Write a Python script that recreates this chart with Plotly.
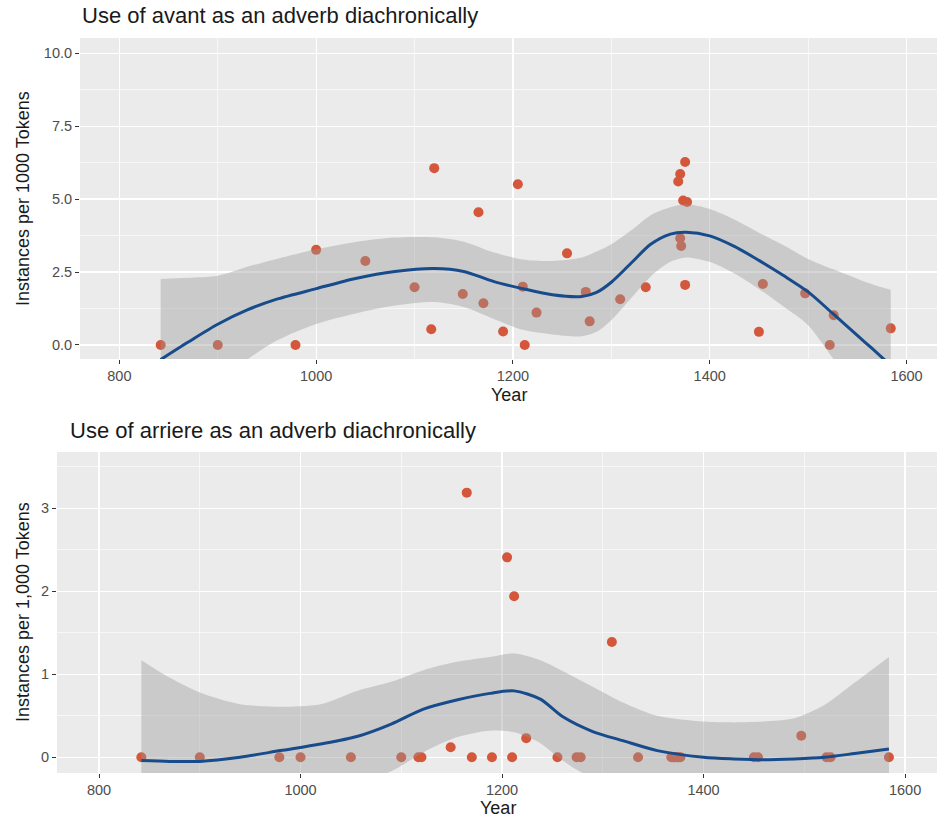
import plotly.graph_objects as go

# ---------------- data: avant (top panel) ----------------
avant_years = [842, 900, 979, 1000, 1050, 1100, 1117, 1120, 1149, 1165, 1170, 1190,
               1205, 1210, 1212, 1224, 1255, 1274, 1278, 1309, 1335, 1368, 1370, 1375,
               1373, 1377, 1370, 1371, 1375, 1450, 1454, 1497, 1522, 1526, 1584]
avant_values = [0.0, 0.0, 0.0, 3.26, 2.88, 1.98, 0.54, 6.06, 1.75, 4.55, 1.43, 0.46,
                5.51, 2.0, 0.0, 1.11, 3.14, 1.82, 0.81, 1.57, 1.98, 5.6, 5.86, 6.27,
                4.95, 4.9, 3.66, 3.39, 2.06, 0.45, 2.09, 1.77, 0.0, 1.02, 0.57]

avant_fit_years = [842, 870, 900, 930, 960, 1000, 1040, 1080, 1120, 1150, 1180, 1210,
                   1240, 1270, 1285, 1300, 1320, 1340, 1360, 1376, 1400, 1425, 1450,
                   1475, 1500, 1525, 1550, 1565, 1584]
avant_fit = [-0.5, 0.1, 0.71, 1.2, 1.57, 1.93, 2.28, 2.52, 2.62, 2.52, 2.18, 1.93,
             1.72, 1.66, 1.8, 2.15, 2.8, 3.45, 3.8, 3.86, 3.74, 3.38, 2.9,
             2.38, 1.82, 1.08, 0.33, -0.12, -0.7]
avant_upper = [2.26, 2.3, 2.37, 2.68, 2.95, 3.28, 3.53, 3.68, 3.69, 3.54, 3.18, 2.93,
               2.88, 3.0, 3.2, 3.45, 3.92, 4.45, 4.72, 4.82, 4.66, 4.3, 3.85,
               3.42, 2.95, 2.6, 2.27, 2.08, 1.89]
avant_lower = [-3.0, -2.1, -1.25, -0.5, 0.15, 0.72, 1.08, 1.35, 1.47, 1.3, 0.9, 0.52,
               0.36, 0.3, 0.45, 0.85, 1.6, 2.35, 2.85, 3.0, 2.85, 2.45, 1.92,
               1.32, 0.68, -0.45, -1.6, -2.3, -3.2]

# ---------------- data: arriere (bottom panel) ----------------
arriere_years = avant_years
arriere_values = [0.0, 0.0, 0.0, 0.0, 0.0, 0.0, 0.0, 0.0, 0.12, 3.19, 0.0, 0.0,
                  2.41, 0.0, 1.94, 0.23, 0.0, 0.0, 0.0, 1.39, 0.0, 0.0, 0.0, 0.0,
                  0.0, 0.0, 0.0, 0.0, 0.0, 0.0, 0.0, 0.26, 0.0, 0.0, 0.0]

arriere_fit_years = [842, 870, 900, 940, 980, 1020, 1056, 1090, 1122, 1155, 1188, 1212,
                     1238, 1260, 1290, 1320, 1354, 1400, 1430, 1460, 1490, 1520, 1550, 1584]
arriere_fit = [-0.04, -0.05, -0.05, 0.0, 0.08, 0.16, 0.25, 0.4, 0.58, 0.69, 0.77, 0.8,
               0.7, 0.49, 0.31, 0.2, 0.08, 0.0, -0.02, -0.03, -0.02, 0.0, 0.045, 0.1]
arriere_upper = [1.17, 0.96, 0.78, 0.64, 0.61, 0.64, 0.8, 0.91, 1.05, 1.15, 1.21, 1.25,
                 1.17, 1.04, 0.85, 0.66, 0.5, 0.43, 0.42, 0.43, 0.47, 0.63, 0.9, 1.21]
arriere_lower = [-1.25, -1.05, -0.88, -0.64, -0.45, -0.32, -0.3, -0.17, 0.06, 0.24, 0.32, 0.3,
                 0.17, -0.04, -0.25, -0.3, -0.35, -0.43, -0.46, -0.49, -0.53, -0.64, -0.8, -1.0]

# ---------------- style ----------------
W, H = 937, 821
PT_COLOR = "#D4573B"
LINE_COLOR = "#174B8B"
BAND_COLOR = "rgba(153,153,153,0.4)"
PANEL_BG = "#EBEBEB"
TICK_FONT = dict(family="Liberation Sans, Arial, sans-serif", size=14.5, color="#4D4D4D")
AX_FONT = dict(family="Liberation Sans, Arial, sans-serif", size=18, color="#1A1A1A")
TITLE_FONT = dict(family="Liberation Sans, Arial, sans-serif", size=22, color="#1A1A1A")


def px_x(p):
    return p / W


def px_y(p):
    return 1 - p / H


fig = go.Figure()


def add_panel(xa, ya, years, values, fy, fit, lo, up):
    fig.add_trace(go.Scatter(x=years, y=values, mode="markers", xaxis=xa, yaxis=ya,
                             marker=dict(color=PT_COLOR, size=10, line=dict(width=0)),
                             showlegend=False, hoverinfo="skip"))
    fig.add_trace(go.Scatter(x=fy, y=lo, mode="lines", xaxis=xa, yaxis=ya,
                             line=dict(width=0, shape="spline", smoothing=0.8),
                             showlegend=False, hoverinfo="skip"))
    fig.add_trace(go.Scatter(x=fy, y=up, mode="lines", xaxis=xa, yaxis=ya,
                             line=dict(width=0, shape="spline", smoothing=0.8),
                             fill="tonexty", fillcolor=BAND_COLOR,
                             showlegend=False, hoverinfo="skip"))
    fig.add_trace(go.Scatter(x=fy, y=fit, mode="lines", xaxis=xa, yaxis=ya,
                             line=dict(width=3, color=LINE_COLOR, shape="spline", smoothing=0.8),
                             showlegend=False, hoverinfo="skip"))


add_panel("x", "y", avant_years, avant_values, avant_fit_years, avant_fit, avant_lower, avant_upper)
add_panel("x2", "y2", arriere_years, arriere_values, arriere_fit_years, arriere_fit,
          arriere_lower, arriere_upper)

common_axis = dict(showgrid=True, gridcolor="white", gridwidth=1.2, zeroline=False,
                   ticks="outside", ticklen=4, tickcolor="#333333", tickwidth=1,
                   tickfont=TICK_FONT, showline=False, fixedrange=True, automargin=False)

fig.update_layout(
    width=W, height=H,
    margin=dict(l=0, r=0, t=0, b=0, autoexpand=False),
    paper_bgcolor="white", plot_bgcolor=PANEL_BG,
    showlegend=False,
    xaxis=dict(domain=[px_x(80), 1], anchor="y", range=[760, 1631],
               tickvals=[800, 1000, 1200, 1400, 1600],
               minor=dict(tickvals=[900, 1100, 1300, 1500], showgrid=True,
                          gridcolor="white", gridwidth=0.6, ticks=""),
               **common_axis),
    yaxis=dict(domain=[px_y(359), px_y(38)], anchor="x", range=[-0.48, 10.52],
               tickvals=[0, 2.5, 5, 7.5, 10], ticktext=["0.0", "2.5", "5.0", "7.5", "10.0"],
               minor=dict(tickvals=[1.25, 3.75, 6.25, 8.75], showgrid=True,
                          gridcolor="white", gridwidth=0.6, ticks=""),
               **common_axis),
    xaxis2=dict(domain=[px_x(57), 1], anchor="y2", range=[758.3, 1631.7],
                tickvals=[800, 1000, 1200, 1400, 1600],
                minor=dict(tickvals=[900, 1100, 1300, 1500], showgrid=True,
                           gridcolor="white", gridwidth=0.6, ticks=""),
                **common_axis),
    yaxis2=dict(domain=[px_y(773), px_y(452)], anchor="x2", range=[-0.19, 3.68],
                tickvals=[0, 1, 2, 3],
                minor=dict(tickvals=[0.5, 1.5, 2.5, 3.5], showgrid=True,
                           gridcolor="white", gridwidth=0.6, ticks=""),
                **common_axis),
)

annotations = [
    dict(text="Use of avant as an adverb diachronically", x=px_x(80), y=px_y(15),
         xanchor="left", yanchor="middle", font=TITLE_FONT),
    dict(text="Use of arriere as an adverb diachronically", x=px_x(68), y=px_y(430),
         xanchor="left", yanchor="middle", font=TITLE_FONT),
    dict(text="Instances per 1000 Tokens", x=px_x(23), y=px_y(199), textangle=-90,
         xanchor="center", yanchor="middle", font=AX_FONT),
    dict(text="Instances per 1,000 Tokens", x=px_x(23), y=px_y(612), textangle=-90,
         xanchor="center", yanchor="middle", font=AX_FONT),
    dict(text="Year", x=px_x(509), y=px_y(395), xanchor="center", yanchor="middle", font=AX_FONT),
    dict(text="Year", x=px_x(498), y=px_y(808), xanchor="center", yanchor="middle", font=AX_FONT),
]
for a in annotations:
    a.update(xref="paper", yref="paper", showarrow=False)
fig.update_layout(annotations=annotations)

fig.write_html(
    "out.html",
    config={"displayModeBar": False, "staticPlot": True},
    post_script="document.body.style.margin='0';document.body.style.overflow='hidden';",
)
